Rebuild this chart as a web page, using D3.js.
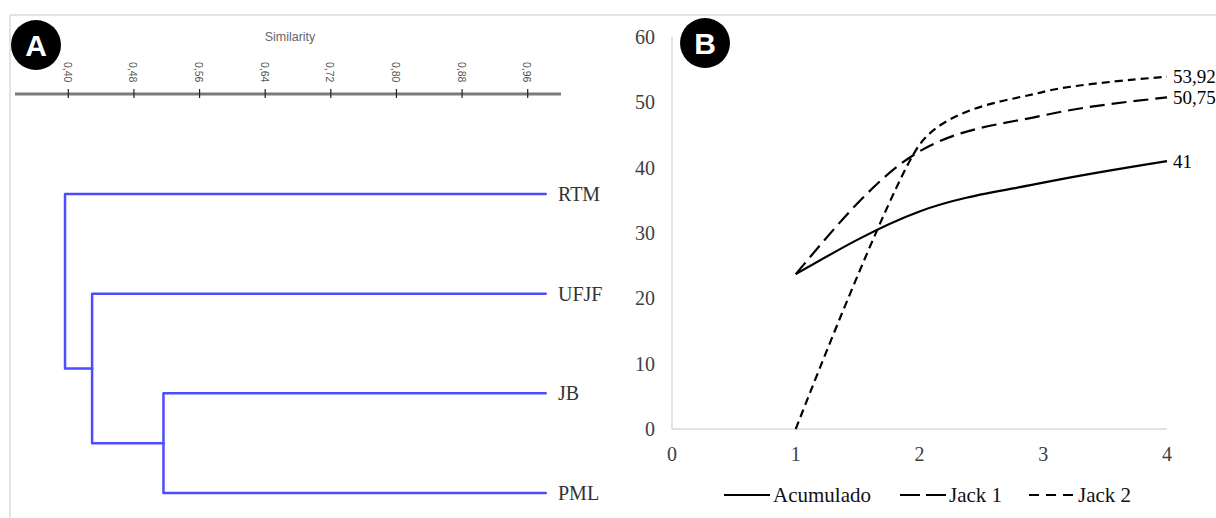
<!DOCTYPE html>
<html>
<head>
<meta charset="utf-8">
<script src="https://cdn.jsdelivr.net/npm/d3@7"></script>
<style>
  body { margin: 0; background: #fff; }
  svg { display: block; }
</style>
</head>
<body>
<svg id="chart" width="1216" height="518"></svg>
<script>
// ---- panel A: dendrogram ----
const leafNames = ["RTM", "UFJF", "JB", "PML"];
const nodeIds = ["JB-PML", "UFJF-JB-PML", "root"];
const nodeChildren = [["JB", "PML"], ["UFJF", "JB-PML"], ["RTM", "UFJF-JB-PML"]];
const nodeSimilarity = [0.516, 0.429, 0.396];
const leafSimilarity = 0.982;
const simTicks = [0.40, 0.48, 0.56, 0.64, 0.72, 0.80, 0.88, 0.96];

// ---- panel B: accumulation curves ----
const samples = [1, 2, 3, 4];
const acumulado = [23.7, 33.3, 37.7, 41];
const jack1 = [23.7, 42.5, 48.0, 50.75];
const jack2 = [0, 43.5, 51.6, 53.92];
const endLabels = ["41", "50,75", "53,92"];
const seriesNames = ["Acumulado", "Jack 1", "Jack 2"];

const svg = d3.select("#chart");
const serif = "Liberation Serif, Times New Roman, serif";
const sans = "Liberation Sans, Arial, sans-serif";

// light frame around the figure
svg.append("line").attr("x1", 10).attr("x2", 1216).attr("y1", 15).attr("y2", 15)
  .attr("stroke", "#e3e3e3").attr("stroke-width", 2);
svg.append("line").attr("x1", 10).attr("x2", 10).attr("y1", 15).attr("y2", 518)
  .attr("stroke", "#e3e3e3").attr("stroke-width", 2);

// ===== A =====
var xs = d3.scaleLinear().domain([0.40, 0.96]).range([68.3, 527.7]);
var ys = d3.scalePoint().domain(leafNames).range([194, 493]);

svg.append("line")
  .attr("x1", 15).attr("x2", 561).attr("y1", 94).attr("y2", 94)
  .attr("stroke", "#7a7a7a").attr("stroke-width", 3);

var tA = svg.append("g").selectAll("g").data(simTicks).enter().append("g");
tA.append("line")
  .attr("x1", d => xs(d)).attr("x2", d => xs(d))
  .attr("y1", 89).attr("y2", 98)
  .attr("stroke", "#222").attr("stroke-width", 1.2);
tA.append("text")
  .attr("transform", d => "translate(" + (xs(d) - 4.5) + ",62) rotate(90)")
  .attr("font-family", sans)
  .attr("font-size", 10.5).attr("fill", "#555")
  .text(d => d.toFixed(2).replace(".", ","));

svg.append("text").attr("x", 290).attr("y", 41)
  .attr("text-anchor", "middle")
  .attr("font-family", sans)
  .attr("font-size", 12.5).attr("fill", "#666")
  .text("Similarity");

// node positions
var pos = {};
leafNames.forEach(n => pos[n] = { x: xs(leafSimilarity), y: ys(n) });
nodeIds.forEach((id, i) => {
  var c = nodeChildren[i];
  pos[id] = { x: xs(nodeSimilarity[i]), y: (pos[c[0]].y + pos[c[1]].y) / 2 };
});

var dendro = svg.append("g")
  .attr("fill", "none").attr("stroke", "#4d4dff").attr("stroke-width", 2.5)
  .attr("stroke-linecap", "round").attr("stroke-linejoin", "round");
nodeIds.forEach((id, i) => {
  var p = pos[id];
  nodeChildren[i].forEach(c => {
    var q = pos[c];
    dendro.append("path").attr("d", "M" + p.x + "," + p.y + "V" + q.y + "H" + q.x);
  });
});

svg.append("g").selectAll("text").data(leafNames).enter().append("text")
  .attr("x", 558).attr("y", d => ys(d)).attr("dy", "0.35em")
  .attr("font-family", serif)
  .attr("font-size", 20).attr("fill", "#333")
  .text(d => d);

// A badge
svg.append("circle").attr("cx", 36).attr("cy", 45).attr("r", 25).attr("fill", "#000");
svg.append("text").attr("x", 36).attr("y", 45).attr("dy", "0.36em")
  .attr("text-anchor", "middle").attr("font-family", sans)
  .attr("font-weight", "bold").attr("font-size", 30).attr("fill", "#fff").text("A");

// ===== B =====
var x = d3.scaleLinear().domain([0, 4]).range([672, 1167]);
var y = d3.scaleLinear().domain([0, 60]).range([429, 37]);

svg.append("line").attr("x1", x(0)).attr("x2", x(0)).attr("y1", y(60)).attr("y2", y(0))
  .attr("stroke", "#d9d9d9").attr("stroke-width", 1.5);
svg.append("line").attr("x1", x(0)).attr("x2", x(4)).attr("y1", y(0)).attr("y2", y(0))
  .attr("stroke", "#d9d9d9").attr("stroke-width", 1.5);

svg.append("g").selectAll("text").data(d3.range(0, 61, 10)).enter().append("text")
  .attr("x", 655).attr("y", d => y(d)).attr("dy", "0.35em")
  .attr("text-anchor", "end").attr("font-family", serif).attr("font-size", 20)
  .attr("fill", "#404040").text(d => d);
svg.append("g").selectAll("text").data(d3.range(0, 5)).enter().append("text")
  .attr("x", d => x(d)).attr("y", 454).attr("dy", "0.35em")
  .attr("text-anchor", "middle").attr("font-family", serif).attr("font-size", 20)
  .attr("fill", "#404040").text(d => d);

var dashes = ["none", "15,7", "8,5"];
var series = [acumulado, jack1, jack2];
// smoothed like the spreadsheet lines; Jack 2 needs a softer spline
var curves = [d3.curveMonotoneX, d3.curveMonotoneX, d3.curveCardinal.tension(0.3)];

svg.append("g").selectAll("path").data(series).enter().append("path")
  .attr("d", (d, i) => d3.line()
    .x((v, j) => x(samples[j]))
    .y(v => y(v))
    .curve(curves[i])(d))
  .attr("fill", "none").attr("stroke", "#000").attr("stroke-width", 2.2)
  .attr("stroke-dasharray", (d, i) => dashes[i]);

svg.append("g").selectAll("text").data(series).enter().append("text")
  .attr("x", x(4) + 6).attr("y", d => y(d[d.length - 1])).attr("dy", "0.35em")
  .attr("font-family", serif).attr("font-size", 19).attr("fill", "#000")
  .text((d, i) => endLabels[i]);

// legend
var legX = [724, 900, 1029];
var legDash = [null, "20,6", "10,7"];
var leg = svg.append("g").selectAll("g").data(seriesNames).enter().append("g");
leg.append("line")
  .attr("x1", (d, i) => legX[i]).attr("x2", (d, i) => legX[i] + 46)
  .attr("y1", 495).attr("y2", 495)
  .attr("stroke", "#000").attr("stroke-width", 2.2)
  .attr("stroke-dasharray", (d, i) => legDash[i]);
leg.append("text")
  .attr("x", (d, i) => legX[i] + 49).attr("y", 495).attr("dy", "0.35em")
  .attr("font-family", serif).attr("font-size", 21).attr("fill", "#111")
  .text(d => d);

// B badge
svg.append("circle").attr("cx", 705).attr("cy", 43).attr("r", 25).attr("fill", "#000");
svg.append("text").attr("x", 705).attr("y", 43).attr("dy", "0.36em")
  .attr("text-anchor", "middle").attr("font-family", sans)
  .attr("font-weight", "bold").attr("font-size", 30).attr("fill", "#fff").text("B");
</script>
</body>
</html>
